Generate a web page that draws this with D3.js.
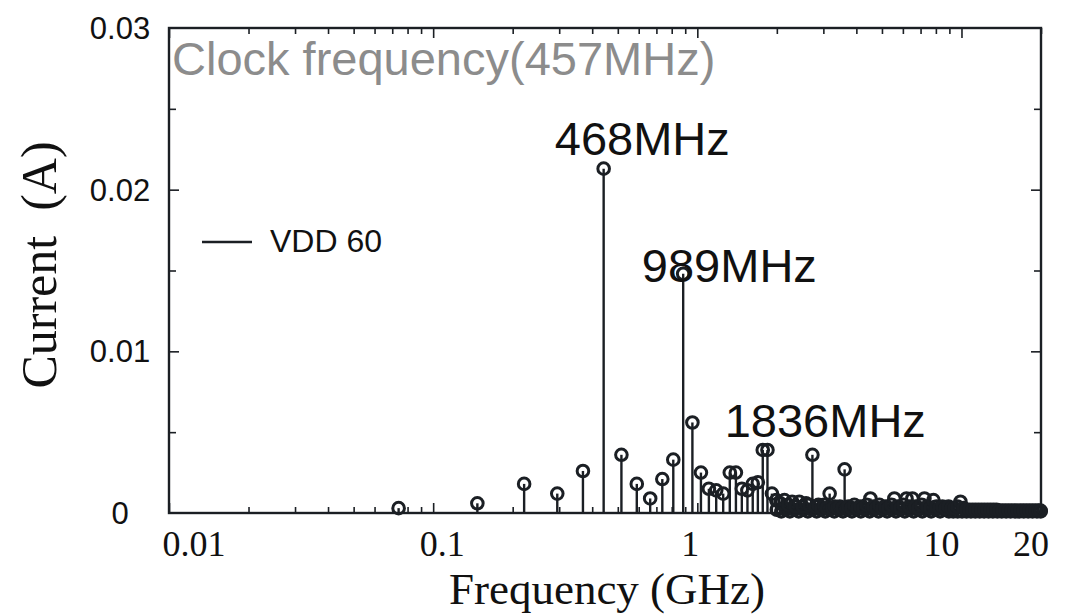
<!DOCTYPE html>
<html>
<head>
<meta charset="utf-8">
<script src="https://cdn.jsdelivr.net/npm/d3@7"></script>
<style>
  body { margin: 0; background: #fff; }
  .sans { font-family: "Liberation Sans", Arial, sans-serif; }
  .serif { font-family: "Liberation Serif", "Times New Roman", serif; }
</style>
</head>
<body>
<svg id="chart" width="1072" height="614"></svg>
<script>
// frequency of each spectral line (GHz) and its current amplitude (A)
var freqGHz = [
  0.074, 0.147, 0.221, 0.295, 0.369, 0.442, 0.516, 0.590, 0.663, 0.737,
  0.811, 0.884, 0.958, 1.032, 1.106, 1.179, 1.253, 1.327, 1.400, 1.474,
  1.548, 1.621, 1.695, 1.769, 1.843, 1.916, 1.990, 2.064, 2.137, 2.211,
  2.285, 2.358, 2.432, 2.506, 2.580, 2.653, 2.727, 2.801, 2.874, 2.948,
  3.022, 3.095, 3.169, 3.243, 3.317, 3.390, 3.464, 3.538, 3.611, 3.685,
  3.73, 3.83, 3.93, 4.04, 4.14, 4.25, 4.37, 4.52, 4.64, 4.76,
  4.89, 5.02, 5.15, 5.29, 5.43, 5.57, 5.72, 5.87, 6.03, 6.19,
  6.35, 6.52, 6.70, 6.87, 7.06, 7.24, 7.43, 7.63, 7.83, 8.04,
  8.26, 8.47, 8.70, 8.93, 9.17, 9.41, 9.66, 9.91, 10.18, 10.44,
  10.72, 11.01, 11.30, 11.60, 11.91, 12.22, 12.55, 12.88, 13.22, 13.57,
  13.93, 14.30, 14.68, 15.07, 15.47, 15.88, 16.30, 16.73, 17.17, 17.63,
  18.10, 18.58, 19.07, 19.57, 19.92
];
var current = [
  0.0003, 0.0006, 0.0018, 0.0012, 0.0026, 0.0213, 0.0036, 0.0018, 0.0009, 0.0021,
  0.0033, 0.0148, 0.0056, 0.0025, 0.0015, 0.0014, 0.0012, 0.0025, 0.0025, 0.0015,
  0.0014, 0.0018, 0.0019, 0.0039, 0.0039, 0.0012, 0.0008, 0.0006, 0.0008, 0.0005,
  0.0007, 0.0004, 0.0007, 0.0004, 0.0006, 0.0005, 0.0036, 0.0004, 0.0005, 0.0003,
  0.0005, 0.0003, 0.0012, 0.0003, 0.0004, 0.0003, 0.0004, 0.0003, 0.0027, 0.0003,
  0.0004, 0.0003, 0.0005, 0.0003, 0.0004, 0.0003, 0.0005, 0.0009, 0.0004, 0.0003,
  0.0005, 0.0003, 0.0004, 0.0003, 0.0005, 0.0009, 0.0004, 0.0003, 0.0005, 0.0009,
  0.0004, 0.0009, 0.0004, 0.0003, 0.0005, 0.0009, 0.0004, 0.0003, 0.0008, 0.0004,
  0.0003, 0.0004, 0.0003, 0.0004, 0.0003, 0.0003, 0.0004, 0.0007, 0.0003, 0.0002,
  0.0002, 0.0002, 0.0002, 0.0002, 0.0002, 0.0002, 0.0002, 0.0002, 0.0002, 0.0002,
  0.00015, 0.00015, 0.00015, 0.00015, 0.00015, 0.00015, 0.00015, 0.00015, 0.00015, 0.00015,
  0.00015, 0.00015, 0.00015, 0.00015, 0.00015
];

// the low floor of lines packed along the axis above ~2 GHz
var floorFreqGHz = [
  2.00, 2.08, 2.16, 2.24, 2.33, 2.42, 2.52, 2.62, 2.72, 2.83,
  2.94, 3.05, 3.17, 3.30, 3.43, 3.56, 3.70, 3.85, 4.00, 4.16,
  4.32, 4.49, 4.66, 4.85, 5.04, 5.23, 5.44, 5.65, 5.87, 6.10,
  6.34, 6.59, 6.85, 7.11, 7.39, 7.68, 7.98, 8.30, 8.62, 8.96,
  9.31, 9.67, 10.05, 10.45, 10.86, 11.28, 11.72, 12.18, 12.66, 13.15,
  13.67, 14.20, 14.76, 15.34, 15.94, 16.56, 17.21, 17.88, 18.58, 19.31, 19.95
];
var floorCurrent = [
  0.0002, 0.0001, 0.0002, 0.0001, 0.0002, 0.0001, 0.0002, 0.0001, 0.0002, 0.0001,
  0.0002, 0.0001, 0.0002, 0.0001, 0.0002, 0.0001, 0.0002, 0.0001, 0.0002, 0.0001,
  0.0002, 0.0001, 0.0002, 0.0001, 0.0002, 0.0001, 0.0002, 0.0001, 0.0002, 0.0001,
  0.0002, 0.0001, 0.0002, 0.0001, 0.0002, 0.0001, 0.0002, 0.0001, 0.0002, 0.0001,
  0.0001, 0.0001, 0.0001, 0.0001, 0.0001, 0.0001, 0.0001, 0.0001, 0.0001, 0.0001,
  0.0001, 0.0001, 0.0001, 0.0001, 0.0001, 0.0001, 0.0001, 0.0001, 0.0001, 0.0001, 0.0001
];

var xTickLabels = [0.01, 0.1, 1, 10, 20];
var yTickLabels = [0, 0.01, 0.02, 0.03];
// annotation text, placed in data units (centre of text, baseline)
var peakLabels = [
  {f: 0.619, v: 0.02214, text: "468MHz"},
  {f: 1.322, v: 0.01429, text: "989MHz"},
  {f: 3.05, v: 0.0047, text: "1836MHz"}
];

var svg = d3.select("#chart");
var ink = "#1b1f24";

var x = d3.scaleLog().domain([0.01, 20]).range([169, 1041]);
var y = d3.scaleLinear().domain([0, 0.03]).range([513, 28]);

var decades = [0.01, 0.1, 1, 10];
var minorX = [];
decades.forEach(function(d) {
  for (var k = 2; k <= 9; k++) {
    if (d * k <= 20) minorX.push(d * k);
  }
});
var minorY = [0.005, 0.015, 0.025];
var majorY = [0.01, 0.02];

// ticks, all pointing inward
function tickGroup(axis, tx, ty) {
  var g = svg.append("g").attr("transform", "translate(" + tx + "," + ty + ")").call(axis);
  g.select(".domain").remove();
  g.selectAll("line").attr("stroke", ink).attr("stroke-width", 1.6);
  g.selectAll("text").remove();
  return g;
}
tickGroup(d3.axisBottom(x).tickValues(minorX).tickSize(-6).tickFormat(""), 0, 513);
tickGroup(d3.axisBottom(x).tickValues(decades).tickSize(-10).tickFormat(""), 0, 513);
tickGroup(d3.axisTop(x).tickValues(minorX).tickSize(-6).tickFormat(""), 0, 28);
tickGroup(d3.axisTop(x).tickValues(decades).tickSize(-10).tickFormat(""), 0, 28);
tickGroup(d3.axisLeft(y).tickValues(minorY).tickSize(-7).tickFormat(""), 169, 0);
tickGroup(d3.axisLeft(y).tickValues(majorY).tickSize(-10).tickFormat(""), 169, 0);
tickGroup(d3.axisRight(y).tickValues(minorY).tickSize(-7).tickFormat(""), 1041, 0);
tickGroup(d3.axisRight(y).tickValues(majorY).tickSize(-10).tickFormat(""), 1041, 0);

// plot frame
svg.append("rect")
  .attr("x", x(0.01)).attr("y", y(0.03))
  .attr("width", x(20) - x(0.01)).attr("height", y(0) - y(0.03))
  .attr("fill", "none").attr("stroke", ink).attr("stroke-width", 2.4);

// title inside frame
svg.append("text").attr("class", "sans")
  .attr("x", 172).attr("y", 75)
  .attr("font-size", 47).attr("fill", "#8c8c8c")
  .text("Clock frequency(457MHz)");

var data = freqGHz.map(function(f, i) { return {f: f, v: current[i]}; });
var floorData = floorFreqGHz.map(function(f, i) { return {f: f, v: floorCurrent[i]}; });
var allData = floorData.concat(data);

// stems
svg.append("g").selectAll("line")
  .data(allData).enter().append("line")
  .attr("x1", function(d) { return x(d.f); })
  .attr("x2", function(d) { return x(d.f); })
  .attr("y1", y(0))
  .attr("y2", function(d) { return y(d.v); })
  .attr("stroke", ink).attr("stroke-width", 2.4);

// hollow markers
svg.append("g").selectAll("circle")
  .data(allData).enter().append("circle")
  .attr("cx", function(d) { return x(d.f); })
  .attr("cy", function(d) { return y(d.v); })
  .attr("r", 5.8)
  .attr("fill", "none")
  .attr("stroke", ink).attr("stroke-width", 3);

// peak annotations
svg.append("g").selectAll("text")
  .data(peakLabels).enter().append("text")
  .attr("class", "sans")
  .attr("x", function(d) { return x(d.f); })
  .attr("y", function(d) { return y(d.v); })
  .attr("text-anchor", "middle")
  .attr("font-size", 47).attr("fill", "#111")
  .text(function(d) { return d.text; });

// legend
svg.append("line")
  .attr("x1", 202).attr("x2", 252).attr("y1", 242).attr("y2", 242)
  .attr("stroke", ink).attr("stroke-width", 2.4);
svg.append("text").attr("class", "sans")
  .attr("x", 270).attr("y", 252)
  .attr("font-size", 32).attr("fill", "#111")
  .text("VDD 60");

// tick labels (the original labels sit a little off their ticks)
var labelNudge = {"0.01": 25, "0.1": 9, "1": -7, "10": -20, "20": -10};
svg.append("g").selectAll("text")
  .data(xTickLabels).enter().append("text")
  .attr("class", "serif")
  .attr("x", function(d) { return x(d) + labelNudge[String(d)]; })
  .attr("y", 556)
  .attr("text-anchor", "middle")
  .attr("font-size", 36).attr("fill", "#111")
  .text(function(d) { return String(d); });

svg.append("g").selectAll("text")
  .data(yTickLabels).enter().append("text")
  .attr("class", "sans")
  .attr("x", 120)
  .attr("y", function(d) { return y(d) + 11; })
  .attr("text-anchor", "middle")
  .attr("font-size", 31).attr("fill", "#111")
  .text(function(d) { return d === 0 ? "0" : d.toFixed(2); });

// axis titles
svg.append("text").attr("class", "serif")
  .attr("x", 607).attr("y", 604)
  .attr("text-anchor", "middle")
  .attr("font-size", 45).attr("fill", "#111")
  .text("Frequency (GHz)");

svg.append("text").attr("class", "serif")
  .attr("transform", "translate(56,265) rotate(-90)")
  .attr("text-anchor", "middle")
  .attr("font-size", 50).attr("fill", "#111")
  .attr("xml:space", "preserve")
  .text("Current  (A)");
</script>
</body>
</html>
